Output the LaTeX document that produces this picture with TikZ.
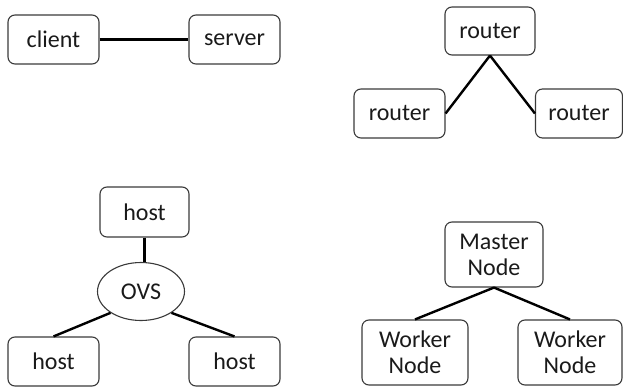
\documentclass[tikz,border=0pt]{standalone}
\usepackage{fontspec}
\setmainfont{Carlito}
\usetikzlibrary{shapes.geometric}
\definecolor{edgegray}{HTML}{3A3A3A}
\definecolor{inkblack}{HTML}{1A1A1A}
\tikzset{
  box/.style={draw=edgegray, line width=1.1pt, rounded corners=7pt,
    inner sep=0pt, text=inkblack, font=\fontsize{24}{26}\selectfont, align=center},
  oval/.style={draw=edgegray, line width=1.1pt, ellipse, inner sep=0pt,
    text=inkblack, font=\fontsize{24}{26}\selectfont,
    minimum width=87pt, minimum height=58pt},
  link/.style={draw=black, line width=2.4pt},
}
\begin{document}
\begin{tikzpicture}[x=1pt, y=-1pt]
\useasboundingbox (0,0) rectangle (623,387);

% client / server pair
\node[box, minimum width=91pt, minimum height=49pt] (client) at (53.5,39.5) {client};
\node[box, minimum width=91pt, minimum height=49pt] (server) at (234.5,39.5) {server};
\draw[link] (client.east) -- (server.west);

% router triangle
\node[box, minimum width=90pt, minimum height=48pt] (rtop) at (490,31) {router};
\node[box, minimum width=91pt, minimum height=49pt] (rleft) at (399.5,113.5) {router};
\node[box, minimum width=87pt, minimum height=49pt] (rright) at (579,113.5) {router};
\draw[link] (rtop.south) -- (rleft.east);
\draw[link] (rtop.south) -- (rright.west);

% hosts around an OVS switch
\node[box, minimum width=89pt, minimum height=50pt] (htop) at (144.5,212) {host};
\node[oval] (ovs) at (141,291.5) {OVS};
\node[box, minimum width=91pt, minimum height=49pt] (hleft) at (53.5,361.5) {host};
\node[box, minimum width=91pt, minimum height=49pt] (hright) at (234.5,361.5) {host};
\draw[link] (htop.south) -- (htop.south |- ovs.north);
\draw[link] (ovs.-145) -- (hleft.north);
\draw[link] (ovs.-35) -- (hright.north);

% master / worker cluster
\node[box, minimum width=98pt, minimum height=65pt] (master) at (494,254.5) {Master\\Node};
\node[box, minimum width=106pt, minimum height=65pt] (wleft) at (415,352.5) {Worker\\Node};
\node[box, minimum width=104pt, minimum height=65pt] (wright) at (570,352.5) {Worker\\Node};
\draw[link] (master.south) -- (wleft.north);
\draw[link] (master.south) -- (wright.north);
\end{tikzpicture}
\end{document}
